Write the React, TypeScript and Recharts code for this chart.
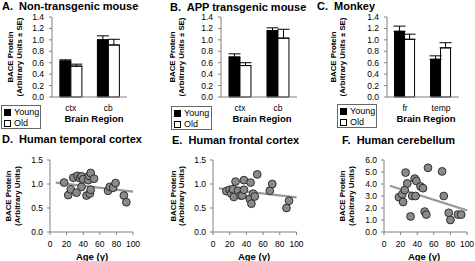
import React from 'react';
import { BarChart, Bar, XAxis, YAxis, ErrorBar, ScatterChart, Scatter, ReferenceLine } from 'recharts';

const FONT = '"Liberation Sans", Arial, Helvetica, sans-serif';

// ---------- Bar panel data ----------
const seriesNames = ['Young', 'Old'];
const mouseRegions = ['ctx', 'cb'];
const monkeyRegions = ['fr', 'temp'];
const barTicks = [0, 0.2, 0.4, 0.6, 0.8, 1.0, 1.2, 1.4];

const nonTgYoung = [0.63, 1.0];
const nonTgYoungErr = [0.02, 0.07];
const nonTgOld = [0.54, 0.91];
const nonTgOldErr = [0.035, 0.1];

const appYoung = [0.7, 1.16];
const appYoungErr = [0.055, 0.05];
const appOld = [0.55, 1.03];
const appOldErr = [0.05, 0.155];

const monkeyYoung = [1.15, 0.66];
const monkeyYoungErr = [0.09, 0.06];
const monkeyOld = [1.01, 0.86];
const monkeyOldErr = [0.09, 0.09];

// ---------- Scatter panel data ----------
const ageTicks = [0, 20, 40, 60, 80, 100];
const cortexTicks = [0, 0.5, 1.0, 1.5];
const cerebTicks = [0, 1, 2, 3, 4, 5, 6];

const temporalAges = [17, 22, 25, 28, 32, 33, 36, 38, 38, 40, 44, 46, 47, 49, 48, 49, 53, 70, 72, 76, 79, 89, 92];
const temporalVals = [1.03, 0.77, 0.89, 1.13, 0.82, 1.17, 1.12, 1.16, 0.94, 1.1, 0.76, 1.08, 1.17, 1.23, 0.8, 0.88, 1.11, 0.86, 0.94, 0.92, 1.02, 0.76, 0.62];
const temporalTrend = [{ x: 7, y: 1.03 }, { x: 100, y: 0.84 }];

const frontalAges = [16, 20, 22, 24, 25, 27, 30, 33, 35, 37, 37, 44, 45, 46, 48, 50, 53, 68, 71, 88, 91];
const frontalVals = [0.85, 0.88, 0.8, 0.89, 0.73, 1.05, 0.86, 0.76, 0.76, 1.08, 0.88, 0.69, 1.03, 0.59, 0.8, 0.74, 1.2, 0.86, 1.0, 0.5, 0.65];
const frontalTrend = [{ x: 7, y: 0.91 }, { x: 100, y: 0.72 }];

const cerebAges = [18, 22, 23, 25, 26, 28, 32, 34, 37, 39, 38, 44, 47, 49, 51, 53, 70, 72, 78, 80, 89, 93];
const cerebVals = [2.9, 3.15, 2.5, 3.5, 4.95, 4.05, 1.3, 3.0, 4.45, 4.25, 3.0, 3.8, 3.65, 1.7, 1.45, 5.35, 5.05, 3.0, 1.6, 1.0, 1.45, 1.45];
const cerebTrend = [{ x: 7, y: 3.85 }, { x: 100, y: 1.8 }];

const titles = [
  'A.  Non-transgenic mouse',
  'B.  APP transgenic mouse',
  'C.  Monkey',
  'D.  Human temporal cortex',
  'E.  Human frontal cortex',
  'F.  Human cerebellum',
];
const barYLabel = ['BACE Protein', '(Arbitrary Units \u00b1 SE)'];
const scatterYLabel = ['BACE Protein', '(Arbitrary Units)'];
const barXLabel = 'Brain Region';
const scatterXLabel = 'Age (y)';

const AXIS = '#808080';

function Txt({ x, y, text, size, bold, anchor = 'left' }: any) {
  const tx = anchor === 'center' ? '-50%' : '0';
  return (
    <div
      style={{
        position: 'absolute',
        left: x,
        top: y,
        transform: `translate(${tx}, -50%)`,
        fontFamily: FONT,
        fontSize: size,
        fontWeight: bold ? 'bold' : 'normal',
        whiteSpace: 'pre',
        lineHeight: 1,
        color: '#000',
      }}
    >
      {text}
    </div>
  );
}

function VTxt({ x, y, text, size }: any) {
  return (
    <div
      style={{
        position: 'absolute',
        left: x,
        top: y,
        transform: 'translate(-50%, -50%) rotate(-90deg)',
        fontFamily: FONT,
        fontSize: size,
        fontWeight: 'bold',
        whiteSpace: 'pre',
        lineHeight: 1,
        color: '#000',
      }}
    >
      {text}
    </div>
  );
}

function LegendBox({ left, top, width }: any) {
  const row = (filled: boolean, label: string, y: number) => (
    <div style={{ position: 'absolute', left: 2, top: y, display: 'flex', alignItems: 'center', height: 10 }}>
      <div
        style={{
          width: 7,
          height: 7,
          boxSizing: 'border-box',
          background: filled ? '#000' : '#fff',
          border: '1px solid #000',
        }}
      />
      <span style={{ marginLeft: 3, fontFamily: FONT, fontSize: 9, lineHeight: 1 }}>{label}</span>
    </div>
  );
  return (
    <div
      style={{
        position: 'absolute',
        left,
        top,
        width,
        height: 24,
        boxSizing: 'border-box',
        border: '1px solid #666',
        background: '#fff',
      }}
    >
      {row(true, seriesNames[0], 1.5)}
      {row(false, seriesNames[1], 12)}
    </div>
  );
}

function BarPanel({ plotLeft, plotRight, categories, young, youngErr, old, oldErr }: any) {
  const data = categories.map((c: string, i: number) => ({
    region: c,
    young: young[i],
    old: old[i],
    youngErr: [0, youngErr[i]],
    oldErr: [0, oldErr[i]],
  }));
  const yw = 40;
  const mt = 8;
  const mr = 4;
  const xh = 24;
  const plotTop = 17;
  const plotBottom = 97;
  const W = yw + (plotRight - plotLeft) + mr;
  const H = mt + (plotBottom - plotTop) + xh;
  return (
    <div style={{ position: 'absolute', left: plotLeft - yw, top: plotTop - mt }}>
      <BarChart
        width={W}
        height={H}
        data={data}
        margin={{ top: mt, right: mr, bottom: 0, left: 0 }}
        barCategoryGap="21%"
        barGap={0}
      >
        <XAxis
          dataKey="region"
          height={xh}
          tickLine={false}
          tickSize={6}
          tickMargin={2}
          axisLine={{ stroke: AXIS }}
          tick={{ fontSize: 8.5, fill: '#000', fontFamily: FONT }}
          interval={0}
        />
        <YAxis
          width={yw}
          domain={[0, 1.4]}
          ticks={barTicks}
          interval={0}
          tickFormatter={(v: number) => v.toFixed(1)}
          tickSize={3}
          tickMargin={5}
          axisLine={{ stroke: AXIS }}
          tickLine={{ stroke: AXIS }}
          tick={{ fontSize: 8.5, fill: '#000', fontFamily: FONT }}
        />
        <Bar dataKey="young" fill="#000" stroke="#000" strokeWidth={1} isAnimationActive={false}>
          <ErrorBar dataKey="youngErr" width={6} stroke="#000" strokeWidth={1} direction="y" />
        </Bar>
        <Bar dataKey="old" fill="#fff" stroke="#000" strokeWidth={1} isAnimationActive={false}>
          <ErrorBar dataKey="oldErr" width={6} stroke="#000" strokeWidth={1} direction="y" />
        </Bar>
      </BarChart>
    </div>
  );
}

const Dot = (p: any) => {
  if (p.cx == null || p.cy == null) return null;
  return <circle cx={p.cx} cy={p.cy} r={3.9} fill="#8a8a8a" stroke="#222" strokeWidth={0.9} />;
};

function ScatterPanel({ plotLeft, plotRight, ages, vals, yMax, yTicks, trend }: any) {
  const data = ages.map((a: number, i: number) => ({ age: a, value: vals[i] }));
  const yw = 40;
  const mt = 8;
  const mr = 8;
  const xh = 22;
  const plotTop = 160;
  const plotBottom = 232;
  const W = yw + (plotRight - plotLeft) + mr;
  const H = mt + (plotBottom - plotTop) + xh;
  return (
    <div style={{ position: 'absolute', left: plotLeft - yw, top: plotTop - mt }}>
      <ScatterChart width={W} height={H} margin={{ top: mt, right: mr, bottom: 0, left: 0 }}>
        <XAxis
          type="number"
          dataKey="age"
          domain={[0, 100]}
          ticks={ageTicks}
          interval={0}
          height={xh}
          tickSize={3}
          tickMargin={6}
          axisLine={{ stroke: AXIS }}
          tickLine={{ stroke: AXIS }}
          tick={{ fontSize: 8.5, fill: '#000', fontFamily: FONT }}
        />
        <YAxis
          type="number"
          dataKey="value"
          width={yw}
          domain={[0, yMax]}
          ticks={yTicks}
          interval={0}
          tickFormatter={(v: number) => v.toFixed(1)}
          tickSize={3}
          tickMargin={4}
          axisLine={{ stroke: AXIS }}
          tickLine={{ stroke: AXIS }}
          tick={{ fontSize: 8.5, fill: '#000', fontFamily: FONT }}
        />
        <Scatter data={data} shape={Dot} isAnimationActive={false} />
        <ReferenceLine segment={trend} stroke="#999" strokeWidth={2.2} />
      </ScatterChart>
    </div>
  );
}

export default function App() {
  return (
    <div
      style={{
        position: 'absolute',
        left: 0,
        top: 0,
        width: 475,
        height: 261,
        background: '#fff',
        overflow: 'hidden',
        fontFamily: FONT,
      }}
    >
      {/* Titles */}
      <Txt x={2} y={6} text={titles[0]} size={11} bold />
      <Txt x={170} y={6.5} text={titles[1]} size={11} bold />
      <Txt x={317} y={6} text={titles[2]} size={11} bold />
      <Txt x={2} y={139} text={titles[3]} size={11} bold />
      <Txt x={172} y={139.5} text={titles[4]} size={11} bold />
      <Txt x={342} y={139.5} text={titles[5]} size={11} bold />

      {/* Bar panels */}
      <BarPanel plotLeft={52} plotRight={127} categories={mouseRegions} young={nonTgYoung} youngErr={nonTgYoungErr} old={nonTgOld} oldErr={nonTgOldErr} />
      <BarPanel plotLeft={221} plotRight={297} categories={mouseRegions} young={appYoung} youngErr={appYoungErr} old={appOld} oldErr={appOldErr} />
      <BarPanel plotLeft={387} plotRight={459} categories={monkeyRegions} young={monkeyYoung} youngErr={monkeyYoungErr} old={monkeyOld} oldErr={monkeyOldErr} />

      <VTxt x={11} y={57} text={barYLabel[0]} size={7.8} />
      <VTxt x={20} y={57} text={barYLabel[1]} size={7.8} />
      <VTxt x={173} y={57} text={barYLabel[0]} size={7.8} />
      <VTxt x={182} y={57} text={barYLabel[1]} size={7.8} />
      <VTxt x={334} y={57} text={barYLabel[0]} size={7.8} />
      <VTxt x={343} y={57} text={barYLabel[1]} size={7.8} />

      <Txt x={94} y={119} text={barXLabel} size={9.5} bold anchor="center" />
      <Txt x={262} y={119} text={barXLabel} size={9.5} bold anchor="center" />
      <Txt x={426} y={118.5} text={barXLabel} size={9.5} bold anchor="center" />

      <LegendBox left={1} top={105} width={40} />
      <LegendBox left={171} top={106} width={41} />
      <LegendBox left={337} top={104} width={40} />

      {/* Scatter panels */}
      <ScatterPanel plotLeft={50} plotRight={133} ages={temporalAges} vals={temporalVals} yMax={1.5} yTicks={cortexTicks} trend={temporalTrend} />
      <ScatterPanel plotLeft={212.5} plotRight={296} ages={frontalAges} vals={frontalVals} yMax={1.5} yTicks={cortexTicks} trend={frontalTrend} />
      <ScatterPanel plotLeft={384} plotRight={467} ages={cerebAges} vals={cerebVals} yMax={6} yTicks={cerebTicks} trend={cerebTrend} />

      <VTxt x={8.5} y={196} text={scatterYLabel[0]} size={7.8} />
      <VTxt x={17.5} y={196} text={scatterYLabel[1]} size={7.8} />
      <VTxt x={173.5} y={196} text={scatterYLabel[0]} size={7.8} />
      <VTxt x={182} y={196} text={scatterYLabel[1]} size={7.8} />
      <VTxt x={343} y={196} text={scatterYLabel[0]} size={7.8} />
      <VTxt x={352} y={196} text={scatterYLabel[1]} size={7.8} />

      <Txt x={92} y={257} text={scatterXLabel} size={9.5} bold anchor="center" />
      <Txt x={254} y={257} text={scatterXLabel} size={9.5} bold anchor="center" />
      <Txt x={424} y={257} text={scatterXLabel} size={9.5} bold anchor="center" />
    </div>
  );
}
